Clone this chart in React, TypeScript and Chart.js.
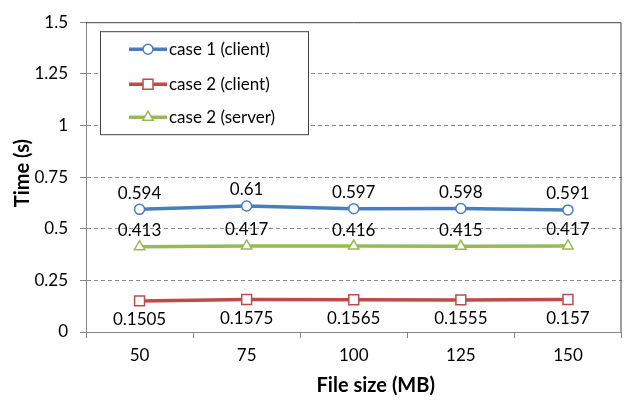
import React, { useEffect, useRef } from "react";
import { Chart, registerables } from "chart.js";

Chart.register(...registerables);

const categories = ["50", "75", "100", "125", "150"];
const case1Client = [0.594, 0.61, 0.597, 0.598, 0.591];
const case2Client = [0.1505, 0.1575, 0.1565, 0.1555, 0.157];
const case2Server = [0.413, 0.417, 0.416, 0.415, 0.417];
const seriesLabels = ["case 1 (client)", "case 2 (client)", "case 2 (server)"];
const yTicks = [0, 0.25, 0.5, 0.75, 1, 1.25, 1.5];

const FONT = "Lato, 'Open Sans', 'Liberation Sans', sans-serif";
const BLUE = "#4A7EBB";
const RED = "#BE4B48";
const GREEN = "#98B954";
const labelSide = ["above", "below", "above"];

function drawMarker(ctx: CanvasRenderingContext2D, style: string, x: number, y: number, color: string) {
  ctx.save();
  ctx.fillStyle = "#ffffff";
  ctx.strokeStyle = color;
  ctx.lineWidth = 1.5;
  ctx.beginPath();
  if (style === "circle") {
    ctx.arc(x, y, 5, 0, Math.PI * 2);
  } else if (style === "rect") {
    ctx.rect(x - 5, y - 5, 10, 10);
  } else {
    ctx.moveTo(x, y - 6);
    ctx.lineTo(x + 5.2, y + 3);
    ctx.lineTo(x - 5.2, y + 3);
    ctx.closePath();
  }
  ctx.fill();
  ctx.stroke();
  ctx.restore();
}

const extrasPlugin = {
  id: "extras",
  afterDraw(chart: any) {
    const ctx = chart.ctx as CanvasRenderingContext2D;
    const area = chart.chartArea;
    ctx.save();
    // plot border top & right
    ctx.strokeStyle = "#404040";
    ctx.lineWidth = 1;
    ctx.beginPath();
    ctx.moveTo(area.left, area.top + 0.5);
    ctx.lineTo(area.right - 0.5, area.top + 0.5);
    ctx.lineTo(area.right - 0.5, area.bottom);
    ctx.stroke();

    // data labels
    ctx.fillStyle = "#000000";
    ctx.font = `17px ${FONT}`;
    ctx.textAlign = "center";
    ctx.textBaseline = "middle";
    chart.data.datasets.forEach((ds: any, i: number) => {
      const meta = chart.getDatasetMeta(i);
      meta.data.forEach((pt: any, j: number) => {
        const v = ds.data[j];
        const dy = labelSide[i] === "above" ? -16 : 19;
        ctx.fillText(String(v), pt.x, pt.y + dy);
      });
    });

    // legend
    const lx = area.left + 14;
    const ly = area.top + 9;
    ctx.fillStyle = "#ffffff";
    ctx.fillRect(lx, ly, 208, 103);
    ctx.strokeStyle = "#404040";
    ctx.lineWidth = 1;
    ctx.strokeRect(lx + 0.5, ly + 0.5, 208, 103);
    const rows = [18, 53, 86];
    chart.data.datasets.forEach((ds: any, i: number) => {
      const y = ly + rows[i];
      ctx.strokeStyle = ds.borderColor;
      ctx.lineWidth = 3.5;
      ctx.beginPath();
      ctx.moveTo(lx + 29, y);
      ctx.lineTo(lx + 67, y);
      ctx.stroke();
      drawMarker(ctx, ds.pointStyle, lx + 48, y, ds.borderColor);
      ctx.fillStyle = "#000000";
      ctx.font = `17px ${FONT}`;
      ctx.textAlign = "left";
      ctx.textBaseline = "middle";
      ctx.fillText(ds.label, lx + 69, y);
    });

    // axis titles
    ctx.fillStyle = "#000000";
    ctx.font = `bold 20px ${FONT}`;
    ctx.textAlign = "center";
    ctx.textBaseline = "middle";
    ctx.fillText("File size (MB)", (area.left + area.right) / 2 + 22, 386);
    ctx.translate(23, (area.top + area.bottom) / 2 - 4);
    ctx.rotate(-Math.PI / 2);
    ctx.fillText("Time (s)", 0, 0);
    ctx.restore();
  },
};

export default function App() {
  const ref = useRef<HTMLCanvasElement>(null);
  useEffect(() => {
    document.body.style.margin = "0";
    const mk = (label: string, data: number[], color: string, style: string, radius: number) => ({
      label,
      data,
      borderColor: color,
      backgroundColor: "#ffffff",
      borderWidth: 3.5,
      pointStyle: style,
      pointRadius: radius,
      pointBorderWidth: 1.5,
      pointBackgroundColor: "#ffffff",
      pointBorderColor: color,
      tension: 0,
    });
    const chart = new Chart(ref.current!, {
      type: "line",
      data: {
        labels: categories,
        datasets: [
          mk(seriesLabels[0], case1Client, BLUE, "circle", 5),
          mk(seriesLabels[1], case2Client, RED, "rect", 7),
          mk(seriesLabels[2], case2Server, GREEN, "triangle", 6),
        ],
      },
      options: {
        animation: false,
        responsive: false,
        layout: { padding: { top: 15, right: 2, left: 0, bottom: 0 } },
        plugins: { legend: { display: false }, tooltip: { enabled: false } },
        scales: {
          x: {
            offset: true,
            grid: {
              offset: true,
              drawOnChartArea: false,
              drawTicks: true,
              tickLength: 6,
              tickColor: "#868686",
              color: "#868686",
            },
            border: { display: true, color: "#868686", width: 1 },
            ticks: { color: "#000000", font: { family: FONT, size: 17 }, padding: 7 },
            afterFit(scale: any) {
              scale.height = 68;
            },
          },
          y: {
            min: 0,
            max: 1.5,
            afterBuildTicks(scale: any) {
              scale.ticks = yTicks.map((v) => ({ value: v }));
            },
            grid: {
              color: (c: any) =>
                c.tick && (c.tick.value === 0 || c.tick.value === 1.5) ? "rgba(0,0,0,0)" : "#8c8c8c",
              tickColor: "#868686",
              tickLength: 6,
              drawTicks: true,
            },
            border: { display: true, color: "#868686", width: 1, dash: [4, 3] },
            ticks: {
              color: "#000000",
              font: { family: FONT, size: 17 },
              padding: 12,
              callback: (v: any) => String(v),
            },
            afterFit(scale: any) {
              scale.width = 86;
            },
          },
        },
      },
      plugins: [extrasPlugin],
    });
    return () => chart.destroy();
  }, []);
  return (
    <div style={{ position: "absolute", left: 0, top: 0, width: 630, height: 400 }}>
      <canvas ref={ref} width={630} height={400} />
    </div>
  );
}
